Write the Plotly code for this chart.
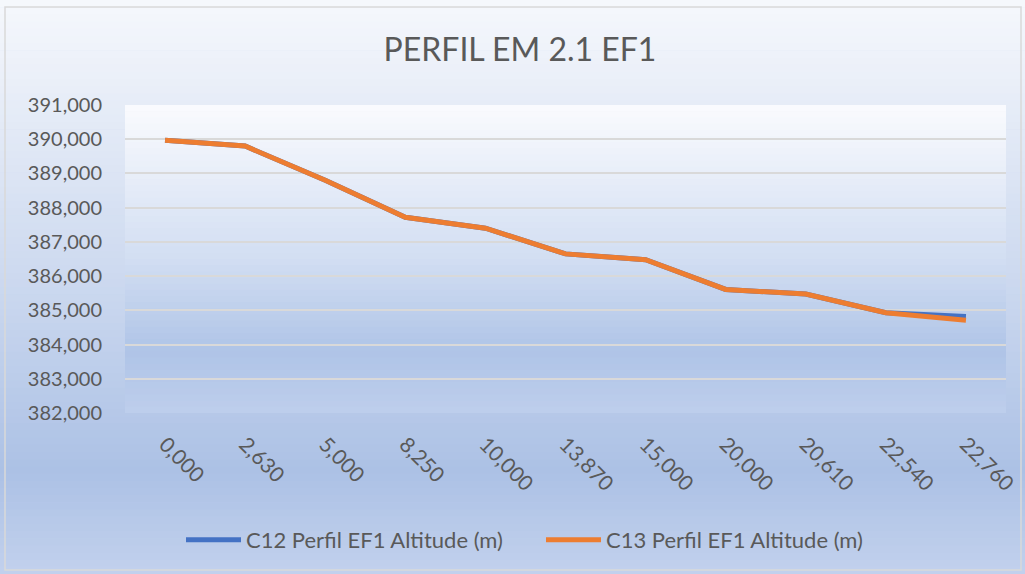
import plotly.graph_objects as go

# ---- data ----
distancias = ["0,000", "2,630", "5,000", "8,250", "10,000", "13,870",
              "15,000", "20,000", "20,610", "22,540", "22,760"]
c12_altitude = [389.970, 389.800, 388.800, 387.720, 387.400, 386.650,
                386.480, 385.610, 385.475, 384.930, 384.820]
c13_altitude = [389.970, 389.800, 388.800, 387.720, 387.400, 386.650,
                386.480, 385.610, 385.475, 384.930, 384.710]
y_min, y_max, y_step = 382, 391, 1

# ---- geometry (pixels) ----
W, H = 1025, 574
L, R, T, B = 125, 1006, 105, 413
pw, ph = R - L, B - T


def px_x(p):
    return (p - L) / pw


def px_y(p):
    return (B - p) / ph


def lerp_stops(stops, t):
    for (t0, c0), (t1, c1) in zip(stops, stops[1:]):
        if t0 <= t <= t1:
            f = (t - t0) / (t1 - t0) if t1 > t0 else 0
            c = [round(a + (b - a) * f) for a, b in zip(c0, c1)]
            return "rgb(%d,%d,%d)" % tuple(c)
    return "rgb(%d,%d,%d)" % tuple(stops[-1][1])


outer_stops = [(0.0, (246, 248, 252)), (0.5, (203, 216, 239)),
               (0.82, (172, 193, 229)), (1.0, (194, 209, 237))]
plot_stops = [(0.0, (250, 251, 254)), (0.5, (210, 222, 242)),
              (0.8, (175, 196, 231)), (1.0, (190, 206, 236))]

shapes = []
n = 80
for i in range(n):
    y0 = H * i / n
    y1 = H * (i + 1) / n + 0.6
    shapes.append(dict(type="rect", xref="paper", yref="paper",
                       x0=px_x(0), x1=px_x(W), y0=px_y(y1), y1=px_y(y0),
                       fillcolor=lerp_stops(outer_stops, (i + 0.5) / n),
                       line=dict(width=0), layer="below"))
m = 50
for i in range(m):
    y0 = T + ph * i / m
    y1 = T + ph * (i + 1) / m + 0.6
    shapes.append(dict(type="rect", xref="paper", yref="paper",
                       x0=0, x1=1, y0=px_y(min(y1, B)), y1=px_y(y0),
                       fillcolor=lerp_stops(plot_stops, (i + 0.5) / m),
                       line=dict(width=0), layer="below"))
# chart border
shapes.append(dict(type="rect", xref="paper", yref="paper",
                   x0=px_x(5), x1=px_x(1021), y0=px_y(570), y1=px_y(7),
                   fillcolor="rgba(0,0,0,0)",
                   line=dict(color="#d9d9d9", width=1.5), layer="below"))

fig = go.Figure()
fig.add_trace(go.Scatter(x=distancias, y=c12_altitude, mode="lines",
                         name="C12 Perfil EF1 Altitude (m)",
                         line=dict(color="#4472C4", width=5)))
fig.add_trace(go.Scatter(x=distancias, y=c13_altitude, mode="lines",
                         name="C13 Perfil EF1 Altitude (m)",
                         line=dict(color="#ED7D31", width=5)))

font_fam = "Lato, 'Open Sans', sans-serif"
fig.update_layout(
    template="none",
    width=W, height=H,
    margin=dict(l=L, r=W - R, t=T, b=H - B, pad=0, autoexpand=False),
    paper_bgcolor="rgb(194,209,237)",
    plot_bgcolor="rgba(0,0,0,0)",
    separators=",.",
    font=dict(family=font_fam, color="#595959", size=20),
    title=dict(text="PERFIL EM 2.1 EF1", x=px_x(520), xanchor="center",
               xref="paper",
               y=1 - 50 / H, yanchor="middle",
               font=dict(size=32, color="#595959", family=font_fam)),
    shapes=shapes,
    showlegend=True,
    legend=dict(orientation="h", x=px_x(181), xanchor="left",
                y=px_y(540), yanchor="middle",
                bgcolor="rgba(0,0,0,0)",
                font=dict(size=22, color="#595959"),
                itemwidth=55, entrywidth=290, tracegroupgap=0),
)
fig.update_xaxes(type="category", range=[-0.5, len(distancias) - 0.5],
                 tickangle=45, showgrid=False, showline=False, ticks="",
                 automargin=False,
                 ticklabelstandoff=14, tickfont=dict(size=21))
fig.update_yaxes(range=[y_min, y_max], dtick=y_step, tickformat=".3f",
                 showgrid=True, gridcolor="#d9d9d9", gridwidth=2,
                 zeroline=False, showline=False, ticks="",
                 automargin=False,
                 ticklabelstandoff=22, tickfont=dict(size=20))

fig.write_html("out.html",
               config={"displayModeBar": False},
               post_script="document.body.style.margin='0';"
                           "document.body.style.overflow='hidden';")
